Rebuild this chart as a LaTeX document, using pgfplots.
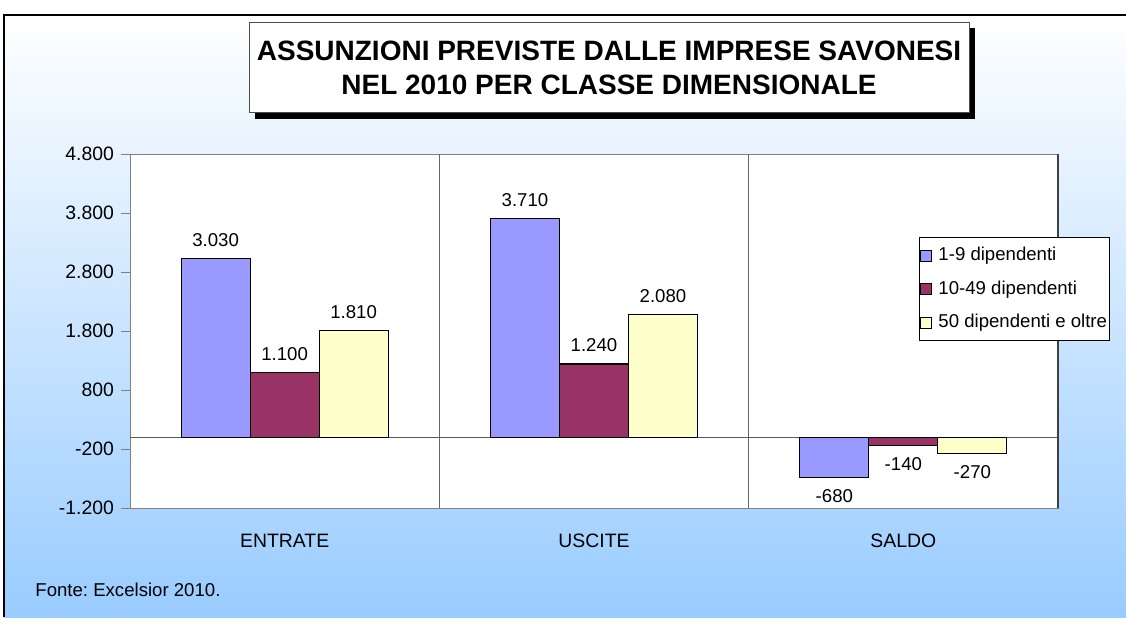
\documentclass[border=0pt]{standalone}
\usepackage{pgfplots}
\pgfplotsset{compat=1.18}
\usepackage{fontspec}
\setmainfont{Liberation Sans}
\frenchspacing
\definecolor{cA}{RGB}{153,153,255}
\definecolor{cB}{RGB}{153,51,102}
\definecolor{cC}{RGB}{255,255,204}
\definecolor{bgblue}{RGB}{153,204,255}
\definecolor{pgray}{RGB}{128,128,128}
\begin{document}
\begin{tikzpicture}
\useasboundingbox (0pt,0pt) rectangle (563pt,-308.5pt);
\fill[white] (0pt,0pt) rectangle (563pt,-308.5pt);
\shade[top color=white,bottom color=bgblue] (2pt,-7.5pt) rectangle (563pt,-308.5pt);
\draw[black,line width=0.6pt] (2pt,-308.5pt) -- (2pt,-7.5pt) -- (563pt,-7.5pt);
% title box
\fill[black] (127.5pt,-14pt) rectangle (487.5pt,-59.5pt);
\draw[fill=white,draw=black!70,line width=0.5pt] (124.5pt,-11pt) rectangle (484.5pt,-56pt);
\node[font=\fontsize{14}{17}\selectfont\bfseries,align=center,inner sep=0pt] at (304.5pt,-34pt)
  {ASSUNZIONI PREVISTE DALLE IMPRESE SAVONESI\\NEL 2010 PER CLASSE DIMENSIONALE};
\node[anchor=west,inner sep=0pt,font=\fontsize{9.3}{11}\selectfont] at (17.5pt,-295pt) {Fonte: Excelsior 2010.};
\begin{axis}[
  at={(65pt,-254pt)}, anchor=south west,
  scale only axis, width=464pt, height=177pt,
  xmin=-0.5, xmax=2.5, ymin=-1200, ymax=4800,
  ytick={-1200,-200,800,1800,2800,3800,4800},
  xtick={0,1,2}, xticklabels={ENTRATE,USCITE,SALDO},
  /pgf/number format/.cd, 1000 sep={.}, assume math mode=true, /pgfplots/.cd,
  ybar=0pt, bar width=34.5pt,
  axis background/.style={fill=white},
  axis line style={pgray},
  xtick style={draw=none},
  ytick style={pgray},
  ytick pos=left,
  tick align=outside,
  major tick length=4.5pt,
  yticklabel style={font=\fontsize{9.7}{11}\selectfont},
  xticklabel style={font=\fontsize{9.7}{11}\selectfont, yshift=-5pt},
  nodes near coords,
  every node near coord/.append style={font=\fontsize{9.3}{11}\selectfont, inner sep=1.5pt, outer ysep=4.5pt, black},
  clip=false,
  legend style={at={(axis description cs:0.8502,0.7655)}, anchor=north west,
    draw=black, fill=white, font=\fontsize{9.3}{11}\selectfont,
    inner xsep=0.2pt, inner ysep=3pt, row sep=4.5pt,
    nodes={inner xsep=0.8pt},
    /tikz/every odd column/.append style={column sep=1pt},
    cells={anchor=west}},
  legend image code/.code={\draw[#1,draw=black,line width=0.5pt] (2.8pt,-2.8pt) rectangle (8.4pt,2.8pt); \path (9.8pt,0pt);},
]
\draw[pgray!80!black,line width=0.5pt] (axis cs:0.5,-1200) -- (axis cs:0.5,4800);
\draw[pgray!80!black,line width=0.5pt] (axis cs:1.5,-1200) -- (axis cs:1.5,4800);
\draw[pgray!70!black,line width=0.5pt] (axis cs:-0.5,0) -- (axis cs:2.5,0);
\addplot[fill=cA,draw=black,line width=0.6pt] coordinates {(0,3030) (1,3710) (2,-680)};
\addplot[fill=cB,draw=black,line width=0.6pt] coordinates {(0,1100) (1,1240) (2,-140)};
\addplot[fill=cC,draw=black,line width=0.6pt] coordinates {(0,1810) (1,2080) (2,-270)};
\legend{1-9 dipendenti,10-49 dipendenti,50 dipendenti e oltre}
\draw[black!75,line width=1pt] (axis cs:2.5,-1200) -- (axis cs:2.5,4800);
\end{axis}
\end{tikzpicture}
\end{document}
